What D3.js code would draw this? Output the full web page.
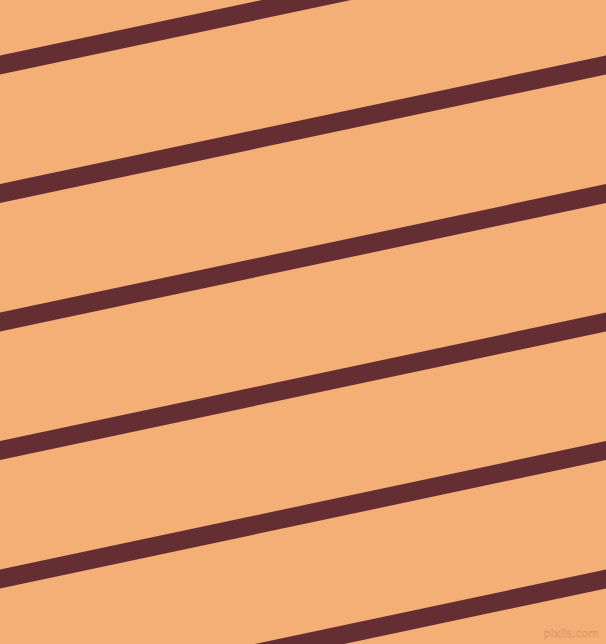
<!DOCTYPE html>
<html>
<head>
<meta charset="utf-8">
<script src="https://cdn.jsdelivr.net/npm/d3@7"></script>
<style>
  html, body { margin: 0; padding: 0; background: #f4af76; }
  svg { display: block; }
</style>
</head>
<body>
<div id="chart"></div>
<script>
// stripe centre heights where each stripe meets the left edge (x = 0)
const stripeStarts = [-63.5, 65, 193.5, 322, 450.5, 579, 707.5];
// drop of each stripe across the full width
const stripeDrop = 128.5;
const xDomain = [0, 606];

const width = 606;
const height = 644;

const svg = d3
  .select('#chart')
  .append('svg')
  .attr('width', width)
  .attr('height', height);

// Background
svg.append('rect').attr('width', width).attr('height', height).attr('fill', '#f4af76');

// Scales (pixel space)
const xScale = d3.scaleLinear().domain(xDomain).range([0, width]);
const yScale = d3.scaleLinear().domain([0, height]).range([0, height]);

const line = d3
  .line()
  .x((d) => xScale(d[0]))
  .y((d) => yScale(d[1]));

// Draw the stripes
svg
  .selectAll('.stripe')
  .data(stripeStarts)
  .enter()
  .append('path')
  .attr('class', 'stripe')
  .attr('d', (b) => line([[xDomain[0] - 20, b + stripeDrop * 20 / 606], [xDomain[1] + 20, b - stripeDrop - stripeDrop * 20 / 606]]))
  .attr('fill', 'none')
  .attr('stroke', '#652e33')
  .attr('stroke-width', 18.5);

// Watermark
svg
  .append('text')
  .attr('x', 599)
  .attr('y', 637)
  .attr('text-anchor', 'end')
  .attr('font-family', 'DejaVu Sans, sans-serif')
  .attr('font-size', 11)
  .attr('fill', '#f8c08f')
  .attr('stroke', '#d8915a')
  .attr('stroke-width', 0.5)
  .text('pixlis.com');
</script>
</body>
</html>
